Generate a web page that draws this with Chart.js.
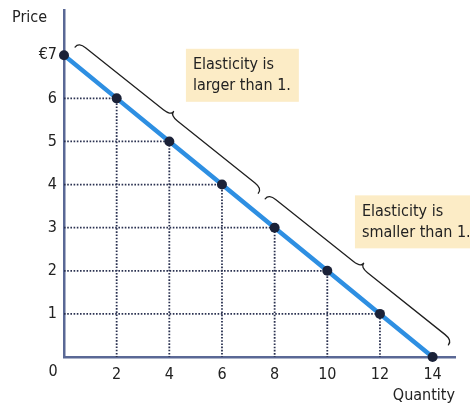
<!DOCTYPE html>
<html>
<head>
<meta charset="utf-8">
<script src="https://cdn.jsdelivr.net/npm/chart.js@4.4.1/dist/chart.umd.min.js"></script>
<style>
  html, body { margin: 0; padding: 0; background: #ffffff; }
  #wrap { width: 470px; height: 408px; position: relative; }
</style>
</head>
<body>
<div id="wrap"><canvas id="demand"></canvas></div>
<script>
// Linear demand curve: quantity demanded at each price
const quantity = [0, 2, 4, 6, 8, 10, 12, 14];
const price    = [7, 6, 5, 4, 3, 2, 1, 0];

const xTicks = [2, 4, 6, 8, 10, 12, 14];
const yTicks = [1, 2, 3, 4, 5, 6, 7];
const yTickLabels = ['1', '2', '3', '4', '5', '6', '€7'];

// Braces along the curve: [startQ, startP, endQ, endP] in data units
const braceSpans = [
  [0.42, 7.19, 7.38, 3.80],
  [7.64, 3.67, 14.6, 0.28]
];

// Callout boxes: anchor (top-left) in data units and their two text lines
const noteAnchors = [[4.63, 7.15], [11.05, 3.75]];
const noteLines = [
  ['Elasticity is', 'larger than 1.'],
  ['Elasticity is', 'smaller than 1.']
];

const FONT = '"Liberation Sans Narrow", "DejaVu Sans Condensed", "Roboto", sans-serif';
const AXIS = '#5a6895';
const INK = '#222222';

// Dotted guides from each interior point to both axes
const guideSets = [];
for (let i = 0; i < quantity.length; i++) {
  if (quantity[i] === 0 || price[i] === 0) continue;
  guideSets.push({
    data: [{x: 0, y: price[i]}, {x: quantity[i], y: price[i]}, {x: quantity[i], y: 0}],
    showLine: true,
    borderColor: '#2a3150',
    borderWidth: 1.8,
    borderDash: [1.6, 1.6],
    pointRadius: 0,
    order: 5,
    clip: false
  });
}

function drawBrace(ctx, x1, y1, x2, y2, w, h, r) {
  const L = Math.hypot(x2 - x1, y2 - y1);
  const ux = (x2 - x1) / L, uy = (y2 - y1) / L;
  // normal pointing away from the curve (up-right)
  const nx = uy, ny = -ux;
  const P = (s, t) => [x1 + ux * s + nx * t, y1 + uy * s + ny * t];
  const m = L / 2;
  ctx.beginPath();
  let p = P(0, 0); ctx.moveTo(p[0], p[1]);
  let c = P(0, w), e = P(r, w); ctx.quadraticCurveTo(c[0], c[1], e[0], e[1]);
  e = P(m - r, w); ctx.lineTo(e[0], e[1]);
  c = P(m, w); e = P(m, w + h); ctx.quadraticCurveTo(c[0], c[1], e[0], e[1]);
  c = P(m, w); e = P(m + r, w); ctx.quadraticCurveTo(c[0], c[1], e[0], e[1]);
  e = P(L - r, w); ctx.lineTo(e[0], e[1]);
  c = P(L, w); e = P(L, 0); ctx.quadraticCurveTo(c[0], c[1], e[0], e[1]);
  ctx.stroke();
}

const annotations = {
  id: 'annotations',
  afterDatasetsDraw(chart) {
    const {ctx, scales: {x, y}} = chart;
    ctx.save();
    // braces
    ctx.strokeStyle = '#1f1f1f';
    ctx.lineWidth = 1.3;
    ctx.lineJoin = 'round';
    ctx.lineCap = 'round';
    braceSpans.forEach(b => {
      drawBrace(ctx, x.getPixelForValue(b[0]), y.getPixelForValue(b[1]),
                     x.getPixelForValue(b[2]), y.getPixelForValue(b[3]), 6, 5, 9);
    });
    // callout boxes
    ctx.font = '16px ' + FONT;
    ctx.textBaseline = 'middle';
    ctx.textAlign = 'left';
    noteAnchors.forEach((a, i) => {
      const bx = x.getPixelForValue(a[0]), by = y.getPixelForValue(a[1]);
      const lines = noteLines[i];
      const tw = Math.max(...lines.map(t => ctx.measureText(t).width));
      ctx.fillStyle = '#fcecc6';
      ctx.fillRect(bx, by, tw + 15, 53);
      ctx.fillStyle = INK;
      ctx.fillText(lines[0], bx + 7, by + 16);
      ctx.fillText(lines[1], bx + 7, by + 37);
    });
    // axis names and origin label
    ctx.fillStyle = INK;
    ctx.textAlign = 'left';
    ctx.fillText('Price', 12, 18);
    ctx.textAlign = 'right';
    ctx.fillText('Quantity', chart.chartArea.right, 396);
    ctx.textAlign = 'center';
    ctx.fillText('0', x.getPixelForValue(0) - 11, 372);
    ctx.restore();
  }
};

new Chart(document.getElementById('demand'), {
  type: 'scatter',
  data: {
    datasets: [
      {
        data: quantity.map((q, i) => ({x: q, y: price[i]})),
        showLine: true,
        borderColor: '#2e8fe2',
        borderWidth: 4.5,
        pointRadius: 5,
        pointBackgroundColor: '#1b2238',
        pointBorderWidth: 0,
        order: 0,
        clip: false
      },
      ...guideSets
    ]
  },
  options: {
    responsive: true,
    maintainAspectRatio: false,
    animation: false,
    layout: { padding: { top: 10, right: 15, left: 0, bottom: 0 } },
    plugins: { legend: { display: false }, tooltip: { enabled: false } },
    scales: {
      x: {
        type: 'linear',
        min: 0,
        max: 14.85,
        afterBuildTicks: s => { s.ticks = xTicks.map(v => ({value: v})); },
        afterFit: s => { s.height = 51; },
        grid: { display: false, drawTicks: false },
        border: { display: true, color: AXIS, width: 2.5 },
        ticks: { padding: 8, color: INK, font: { family: FONT, size: 16 }, maxRotation: 0 }
      },
      y: {
        type: 'linear',
        min: 0,
        max: 8.05,
        afterBuildTicks: s => { s.ticks = yTicks.map(v => ({value: v})); },
        afterFit: s => { s.width = 64; s.paddingTop = 0; s.paddingBottom = 0; },
        grid: { display: false, drawTicks: false },
        border: { display: true, color: AXIS, width: 2.5 },
        ticks: {
          padding: 7, color: INK, font: { family: FONT, size: 16 },
          callback: v => yTickLabels[yTicks.indexOf(v)]
        }
      }
    }
  },
  plugins: [annotations]
});
</script>
</body>
</html>
